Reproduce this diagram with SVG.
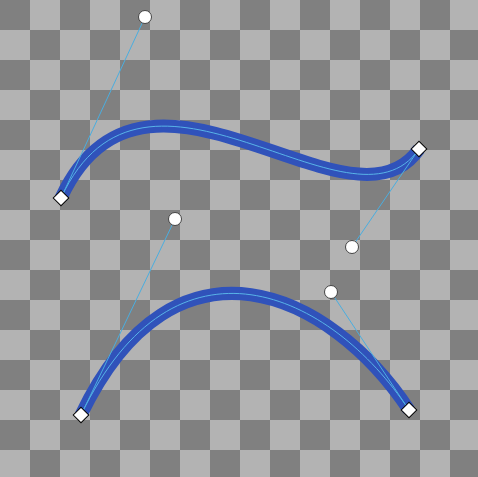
<svg xmlns="http://www.w3.org/2000/svg" width="478" height="477" viewBox="0 0 478 477">
<defs>
<pattern id="checker" x="0" y="0" width="60" height="60" patternUnits="userSpaceOnUse">
<rect width="60" height="60" fill="#b3b3b3"/>
<rect width="30" height="30" fill="#808080"/>
<rect x="30" y="30" width="30" height="30" fill="#808080"/>
</pattern>
<style>
.curve{fill:none;stroke:#3052ba;stroke-width:13}
.inner{fill:none;stroke:#58b4e8;stroke-width:1}
.handle{stroke:#4aaee0;stroke-width:1}
.ctrl{fill:#fff;stroke:#444;stroke-width:1}
.anchor{fill:#fff;stroke:#000;stroke-width:1}
</style>
</defs>
<rect width="478" height="477" fill="url(#checker)"/>
<g id="curve1">
<path class="curve" d="M61,198 C145,17 352,247 419,149"/>
<path class="inner" d="M61,198 C145,17 352,247 419,149"/>
<line class="handle" x1="61" y1="198" x2="145" y2="17"/>
<line class="handle" x1="419" y1="149" x2="352" y2="247"/>
<circle class="ctrl" cx="145" cy="17" r="6.5"/>
<circle class="ctrl" cx="352" cy="247" r="6.5"/>
<rect class="anchor" x="-5.5" y="-5.5" width="11" height="11" transform="translate(61,198) rotate(45)"/>
<rect class="anchor" x="-5.5" y="-5.5" width="11" height="11" transform="translate(419,149) rotate(45)"/>
</g>
<g id="curve2">
<path class="curve" d="M81,415 C175,219 331,292 409,410"/>
<path class="inner" d="M81,415 C175,219 331,292 409,410"/>
<line class="handle" x1="81" y1="415" x2="175" y2="219"/>
<line class="handle" x1="409" y1="410" x2="331" y2="292"/>
<circle class="ctrl" cx="175" cy="219" r="6.5"/>
<circle class="ctrl" cx="331" cy="292" r="6.5"/>
<rect class="anchor" x="-5.5" y="-5.5" width="11" height="11" transform="translate(81,415) rotate(45)"/>
<rect class="anchor" x="-5.5" y="-5.5" width="11" height="11" transform="translate(409,410) rotate(45)"/>
</g>
</svg>
